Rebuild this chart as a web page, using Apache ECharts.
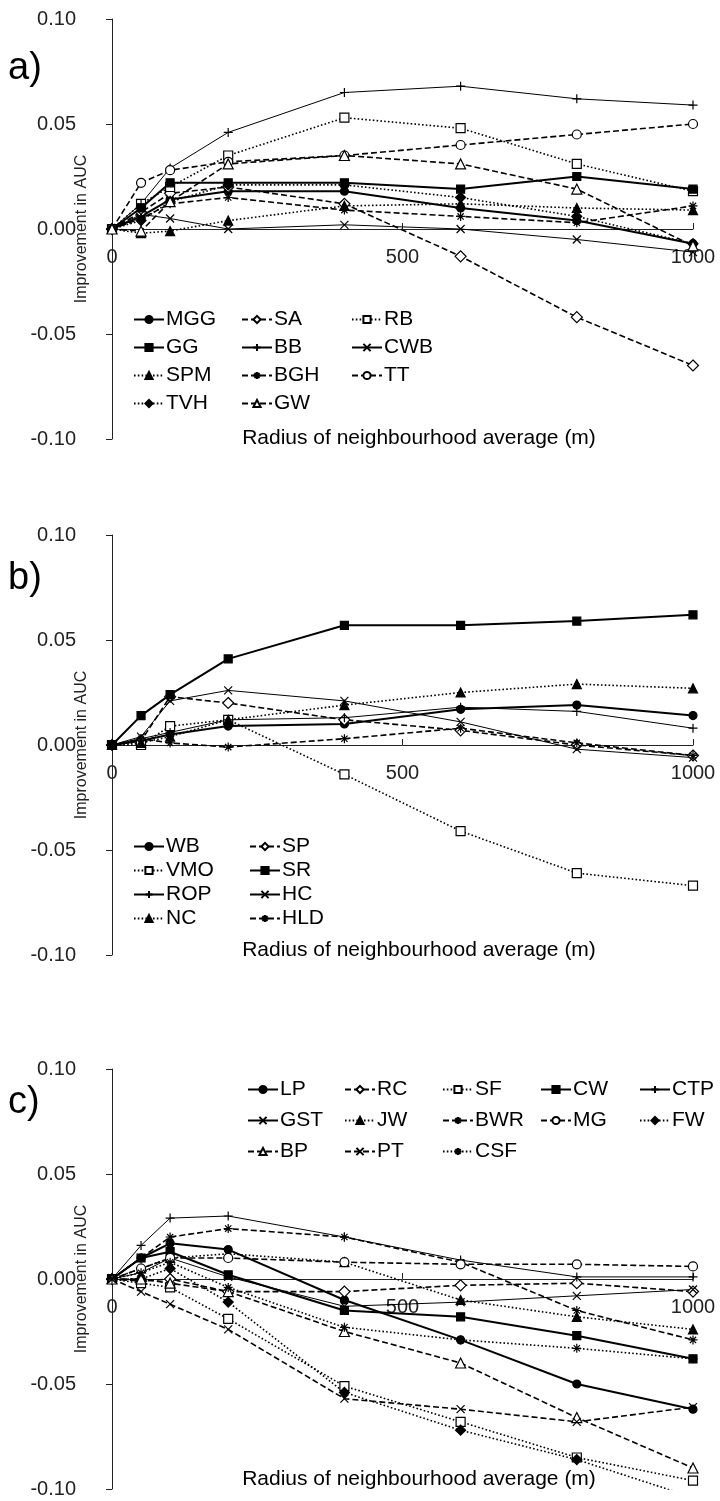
<!DOCTYPE html>
<html>
<head>
<meta charset="utf-8">
<script src="https://cdn.jsdelivr.net/npm/echarts@6/dist/echarts.min.js"></script>
<style>
  html, body { margin: 0; padding: 0; background: #fff; }
  #chart { width: 720px; height: 1501px; }
</style>
</head>
<body>
<div id="chart"></div>
<script>
// radius of neighbourhood average (m)
const radius = [0, 50, 100, 200, 400, 600, 800, 1000];

// panel a
const MGG = [0, 0.006, 0.014, 0.018, 0.018, 0.010, 0.004, -0.007];
const SA  = [0, 0.008, 0.017, 0.020, 0.012, -0.013, -0.042, -0.065];
const RB  = [0, 0.012, 0.020, 0.035, 0.053, 0.048, 0.031, 0.018];
const GG  = [0, 0.010, 0.022, 0.022, 0.022, 0.019, 0.025, 0.019];
const BB  = [0, 0.012, 0.029, 0.046, 0.065, 0.068, 0.062, 0.059];
const CWB = [0, 0.007, 0.005, 0.000, 0.002, 0.000, -0.005, -0.011];
const SPM = [0, -0.002, -0.001, 0.004, 0.011, 0.012, 0.010, 0.009];
const BGH = [0, 0.005, 0.012, 0.015, 0.009, 0.006, 0.003, 0.011];
const TT  = [0, 0.022, 0.028, 0.032, 0.035, 0.040, 0.045, 0.050];
const TVH = [0, 0.004, 0.013, 0.021, 0.021, 0.015, 0.006, -0.007];
const GW  = [0, -0.001, 0.013, 0.031, 0.035, 0.031, 0.019, -0.008];

// panel b
const WB  = [0, 0.002, 0.005, 0.009, 0.010, 0.017, 0.019, 0.014];
const SP  = [0, 0.002, 0.023, 0.020, 0.012, 0.007, 0.000, -0.005];
const VMO = [0, 0.000, 0.009, 0.012, -0.014, -0.041, -0.061, -0.067];
const SR  = [0, 0.014, 0.024, 0.041, 0.057, 0.057, 0.059, 0.062];
const ROP = [0, 0.003, 0.006, 0.012, 0.013, 0.018, 0.016, 0.008];
const HC  = [0, 0.004, 0.021, 0.026, 0.021, 0.011, -0.002, -0.006];
const NC  = [0, 0.001, 0.004, 0.012, 0.019, 0.025, 0.029, 0.027];
const HLD = [0, 0.003, 0.001, -0.001, 0.003, 0.008, 0.001, -0.005];

// panel c
const LP  = [0, 0.010, 0.017, 0.014, -0.010, -0.029, -0.050, -0.062];
const RC  = [0, -0.001, 0.000, -0.006, -0.006, -0.003, -0.002, -0.006];
const SF  = [0, -0.002, -0.004, -0.019, -0.051, -0.068, -0.085, -0.096];
const CW  = [0, 0.010, 0.013, 0.002, -0.015, -0.018, -0.027, -0.038];
const CTP = [0, 0.016, 0.029, 0.030, 0.020, 0.009, 0.001, 0.001];
const GST = [0, 0.003, 0.010, 0.001, -0.013, -0.011, -0.008, -0.005];
const JW  = [0, 0.005, 0.010, 0.012, 0.008, -0.010, -0.018, -0.024];
const BWR = [0, 0.010, 0.020, 0.024, 0.020, 0.008, -0.015, -0.029];
const MG  = [0, 0.005, 0.010, 0.010, 0.008, 0.007, 0.007, 0.006];
const FW  = [0, 0.000, 0.005, -0.011, -0.054, -0.072, -0.086, -0.104];
const BP  = [0, 0.000, -0.002, -0.006, -0.025, -0.040, -0.066, -0.090];
const PT  = [0, -0.006, -0.012, -0.024, -0.057, -0.062, -0.068, -0.061];
const CSF = [0, 0.003, 0.008, -0.004, -0.023, -0.029, -0.033, -0.038];

const FONT = 'Liberation Sans, Arial, sans-serif';
const PLUS = 'path://M0,5L10,5M5,0L5,10';
const CROSS = 'path://M1,1L9,9M9,1L1,9';
const STAR = 'path://M5,0L5,10M0,5L10,5M1.5,1.5L8.5,8.5M8.5,1.5L1.5,8.5';

// line: s = thick solid, t = thin solid, d = dashed, o = dotted
// marker: fc filled circle, fs filled square, ft filled triangle, fd filled diamond,
//         ec/es/et/ed empty, p plus, x cross, a asterisk
const panels = [
  [['MGG', MGG, 's', 'fc'], ['SA', SA, 'd', 'ed'], ['RB', RB, 'o', 'es'],
   ['GG', GG, 's', 'fs'], ['BB', BB, 't', 'p'], ['CWB', CWB, 't', 'x'],
   ['SPM', SPM, 'o', 'ft'], ['BGH', BGH, 'd', 'a'], ['TT', TT, 'd', 'ec'],
   ['TVH', TVH, 'o', 'fd'], ['GW', GW, 'd', 'et']],
  [['WB', WB, 's', 'fc'], ['SP', SP, 'd', 'ed'], ['VMO', VMO, 'o', 'es'],
   ['SR', SR, 's', 'fs'], ['ROP', ROP, 't', 'p'], ['HC', HC, 't', 'x'],
   ['NC', NC, 'o', 'ft'], ['HLD', HLD, 'd', 'a']],
  [['LP', LP, 's', 'fc'], ['RC', RC, 'd', 'ed'], ['SF', SF, 'o', 'es'],
   ['CW', CW, 's', 'fs'], ['CTP', CTP, 't', 'p'], ['GST', GST, 't', 'x'],
   ['JW', JW, 'o', 'ft'], ['BWR', BWR, 'd', 'a'], ['MG', MG, 'd', 'ec'],
   ['FW', FW, 'o', 'fd'], ['BP', BP, 'd', 'et'], ['PT', PT, 'd', 'x'],
   ['CSF', CSF, 'o', 'a']]
];

const markers = {
  fc: ['circle', 8, '#000'], fs: ['rect', 8, '#000'], ft: ['triangle', 9, '#000'], fd: ['diamond', 10, '#000'],
  ec: ['circle', 9, '#fff'], es: ['rect', 9, '#fff'], et: ['triangle', 10, '#fff'], ed: ['diamond', 11, '#fff'],
  p: [PLUS, 9, 'none'], x: [CROSS, 8, 'none'], a: [STAR, 9, 'none']
};
const lines = {
  s: { width: 2, type: 'solid' },
  t: { width: 1, type: 'solid' },
  d: { width: 1.6, type: [6, 3] },
  o: { width: 1.6, type: [1.6, 2.2] }
};

const series = [];
panels.forEach((list, g) => {
  list.forEach(([name, vals, ln, mk]) => {
    const m = markers[mk];
    series.push({
      name: name,
      type: 'line',
      xAxisIndex: g,
      yAxisIndex: g,
      data: radius.map((r, i) => [r, vals[i]]),
      symbol: m[0],
      symbolSize: m[1],
      showAllSymbol: true,
      lineStyle: { color: '#000', width: lines[ln].width, type: lines[ln].type },
      itemStyle: { color: m[2], borderColor: '#000', borderWidth: 1.2 },
      emphasis: { disabled: true },
      z: 3
    });
  });
});

const PH = 420;
const grids = [
  { left: 112, top: 19, width: 581, height: PH },
  { left: 112, top: 535, width: 581, height: PH },
  { left: 112, top: 1069, width: 581, height: PH }
];

const xAxes = grids.map((g, i) => ({
  gridIndex: i,
  type: 'value',
  min: 0,
  max: 1000,
  interval: 500,
  axisLine: { onZero: true, lineStyle: { color: '#222', width: 1 } },
  axisTick: { inside: true, length: 6, lineStyle: { color: '#222' } },
  // labels sit just under the zero line, not at the bottom of the grid
  axisLabel: { fontSize: 20, color: '#222', margin: 18 - PH / 2, fontFamily: FONT, formatter: v => String(v) },
  splitLine: { show: false }
}));

const yAxes = grids.map((g, i) => ({
  gridIndex: i,
  type: 'value',
  min: -0.1,
  max: 0.1,
  interval: 0.05,
  name: 'Improvement in AUC',
  nameLocation: 'middle',
  nameGap: 22,
  nameRotate: 90,
  nameMoveOverlap: false,
  nameTextStyle: { fontSize: 16, color: '#222', fontFamily: FONT },
  axisLine: { show: true, onZero: false, lineStyle: { color: '#222', width: 1 } },
  axisTick: { show: true, inside: false, length: 6, lineStyle: { color: '#222' } },
  axisLabel: { fontSize: 20, color: '#222', margin: 36, fontFamily: FONT, formatter: v => v.toFixed(2) },
  splitLine: { show: false }
}));

function legendCol(names, left, top, gap) {
  return {
    data: names,
    orient: 'vertical',
    left: left,
    top: top,
    itemWidth: 30,
    itemHeight: 9,
    itemGap: gap,
    selectedMode: false,
    textStyle: { fontSize: 21, color: '#000', fontFamily: FONT, padding: [0, 0, 0, -3], lineHeight: 21 }
  };
}

const legends = [
  legendCol(['MGG', 'GG', 'SPM', 'TVH'], 128, 304, 7),
  legendCol(['SA', 'BB', 'BGH', 'GW'], 236, 304, 7),
  legendCol(['RB', 'CWB', 'TT'], 346, 304, 7),
  legendCol(['WB', 'VMO', 'ROP', 'NC'], 128, 831, 3),
  legendCol(['SP', 'SR', 'HC', 'HLD'], 244, 831, 3),
  legendCol(['LP', 'GST', 'BP'], 242, 1074, 10),
  legendCol(['RC', 'JW', 'PT'], 339, 1074, 10),
  legendCol(['SF', 'BWR', 'CSF'], 437, 1074, 10),
  legendCol(['CW', 'MG'], 535, 1074, 10),
  legendCol(['CTP', 'FW'], 634, 1074, 10)
];

const radiusLabel = 'Radius of neighbourhood average (m)';
const texts = [
  { x: 8, y: 50, text: 'a)', size: 38 },
  { x: 8, y: 560, text: 'b)', size: 38 },
  { x: 8, y: 1084, text: 'c)', size: 38 },
  { x: 419, y: 428, text: radiusLabel, size: 21, center: true },
  { x: 419, y: 940, text: radiusLabel, size: 21, center: true },
  { x: 419, y: 1469, text: radiusLabel, size: 21, center: true }
];

const chart = echarts.init(document.getElementById('chart'), null, { renderer: 'canvas' });
chart.setOption({
  animation: false,
  backgroundColor: '#fff',
  grid: grids,
  xAxis: xAxes,
  yAxis: yAxes,
  legend: legends,
  graphic: texts.map(t => ({
    type: 'text',
    x: t.x,
    y: t.y,
    style: {
      text: t.text,
      font: t.size + 'px ' + FONT,
      fill: '#000',
      textAlign: t.center ? 'center' : 'left'
    }
  })),
  series: series
});
</script>
</body>
</html>
